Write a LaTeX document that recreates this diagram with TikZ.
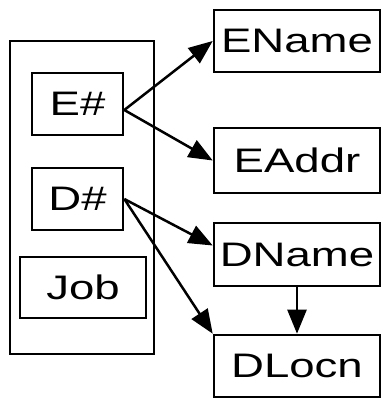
\documentclass[tikz,border=0pt]{standalone}
\usepackage{fontspec}
\newfontfamily\attrfont[FakeStretch=1.34]{Liberation Sans}
\usetikzlibrary{arrows.meta}

\tikzset{
  attr/.style={draw=black, line width=2.6pt, inner sep=0pt,
    font=\attrfont\fontsize{34}{40}\selectfont},
  link/.style={line width=2.5pt, -{Triangle[length=24pt, width=19pt]}}
}

\begin{document}
\begin{tikzpicture}[x=1pt, y=-1pt]
\useasboundingbox (0,0) rectangle (381,398);
% relation on the left, its attributes inside
\node[attr, minimum width=144pt, minimum height=313pt] (emp) at (82,197.5) {};
\node[attr, minimum width=91pt, minimum height=62pt] (enum) at (77.5,104) {E\#};
\node[attr, minimum width=91pt, minimum height=62pt] (dnum) at (77.5,199) {D\#};
\node[attr, minimum width=126pt, minimum height=61pt] (job) at (83,287.5) {Job};

% dependent attributes on the right
\node[attr, minimum width=166pt, minimum height=62pt] (ename) at (297,41) {EName};
\node[attr, minimum width=166pt, minimum height=65pt] (eaddr) at (297,160.5) {EAddr};
\node[attr, minimum width=166pt, minimum height=63pt] (dname) at (297,254.5) {DName};
\node[attr, minimum width=166pt, minimum height=62pt] (dlocn) at (297,366) {DLocn};

% dependencies
\draw[link] ([yshift=-6pt]enum.east) -- (ename.west);
\draw[link] ([yshift=-6pt]enum.east) -- (eaddr.west);
\draw[link] (dnum.east) -- ([yshift=9pt]dname.west);
\draw[link] (dnum.east) -- (dlocn.north west);
\draw[link] (dname.south) -- (dlocn.north);
\end{tikzpicture}
\end{document}
